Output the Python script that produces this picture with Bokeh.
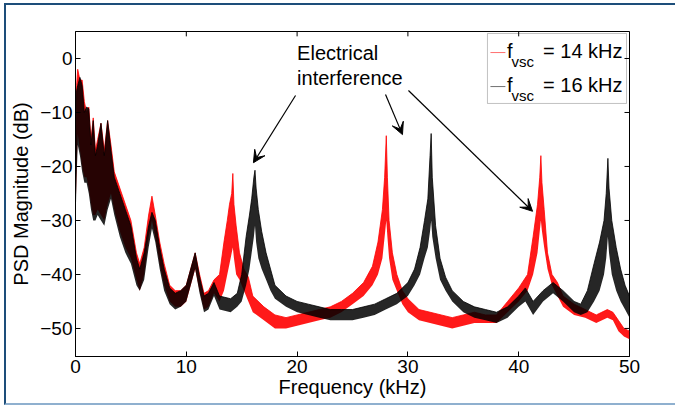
from bokeh.plotting import figure
from bokeh.models import (FixedTicker, Range1d, Label, Arrow, VeeHead, BoxAnnotation)
from bokeh.embed import file_html
from bokeh.resources import INLINE

# ---- data (noise band: lower / upper envelope, dB) ----
red_f = [0.0, 0.1, 0.2, 0.4, 0.6, 0.8, 1.0, 1.2, 1.4, 1.6, 1.8, 2.0, 2.3, 2.6,
         2.9, 3.2, 3.5, 4.0, 4.5, 5.0, 5.5, 5.8, 6.2, 6.6, 6.9, 7.2, 7.6, 8.0,
         8.5, 9.0, 9.5, 10.0, 10.4, 10.8, 11.2, 11.6, 12.0, 12.5, 13.0, 13.4,
         13.7, 13.9, 14.1, 14.2, 14.3, 14.5, 14.8, 15.2, 15.6, 16.0, 17, 18,
         19, 20, 21, 22, 23, 24, 25, 26, 26.8, 27.3, 27.7, 27.9, 28.05, 28.15,
         28.3, 28.6, 29.0, 29.5, 30, 31, 32, 33, 34, 35, 36, 37, 38, 39, 40,
         40.8, 41.3, 41.7, 41.9, 42.0, 42.1, 42.3, 42.6, 43, 43.5, 44, 45, 46,
         47, 48, 48.5, 49, 49.5, 50]
red_lo = [-30, -20, -14, -17, -20, -22, -22, -24, -27, -29, -29, -28, -29, -30,
          -27, -25, -28, -32, -35, -37, -41, -43, -40, -33, -30, -33, -38, -42,
          -45, -46, -46, -45, -42, -39, -43, -46.5, -46, -43.5, -45, -43,
          -40, -38, -36, -35, -37, -40, -41, -43, -45, -47, -48.5, -50,
          -50, -49.5, -49, -48.5, -48, -47, -45.5, -44, -42, -40, -37, -33, -30, -33,
          -37, -41, -43, -45.5, -47, -48.5, -49, -49.5, -50, -49.5, -49, -49, -49, -47, -45,
          -43, -40, -36, -32, -30, -32, -35, -39, -42, -44, -46, -47.5, -48,
          -49, -48, -48.5, -50.5, -51.5, -52]
red_hi = [-22, -5, -2, -4, -4, -8, -10, -9, -15, -11, -17, -15, -12, -17,
          -11.5, -16, -21, -24, -27, -30, -36, -38, -35, -29, -25.5, -29, -34, -38,
          -42, -43, -43, -42, -39, -36, -40, -43.5, -43, -41, -40, -34,
          -30, -27, -25, -21.3, -27, -31, -36, -39, -40.5, -44, -46, -47.5,
          -48, -47.5, -47, -46.5, -46, -45, -43.5, -41.5, -38.5, -34, -28, -22, -14.3, -22,
          -30, -36, -40, -43, -44.5, -46.5, -47, -47.5, -48, -47.5, -47, -47.5, -47.5, -45, -42.5,
          -40, -33, -27, -22, -18, -23, -28, -36, -40, -41.5, -44, -45.5, -46.5,
          -47.5, -46.5, -47, -48.5, -50, -50.5]

blk_f = [0.0, 0.1, 0.2, 0.4, 0.6, 0.8, 1.0, 1.2, 1.4, 1.6, 1.8, 2.0, 2.3, 2.6,
         2.9, 3.2, 3.5, 4.0, 4.5, 5.0, 5.5, 5.8, 6.2, 6.6, 6.9, 7.2, 7.6, 8.0,
         8.5, 9.0, 9.5, 10.0, 10.4, 10.8, 11.2, 11.6, 12.0, 12.5, 13.0, 14.0,
         14.6, 15.0, 15.4, 15.7, 15.9, 16.1, 16.2, 16.3, 16.5, 16.8, 17.2, 17.6,
         18, 19, 20, 21, 22, 23, 24, 25, 26, 27, 28, 29, 30, 30.6, 31.1, 31.5,
         31.8, 32.0, 32.1, 32.2, 32.5, 32.9, 33.4, 34, 35, 36, 37, 38, 39, 40,
         40.6, 41.3, 42.2, 43.1, 44, 45, 45.6, 46.2, 46.8, 47.3, 47.7, 47.9,
         48.05, 48.15, 48.4, 48.8, 49.2, 49.6, 50]
blk_lo = [-31, -22, -16, -18, -21, -23, -23, -25, -28, -30, -30, -29, -30, -31,
          -28, -26, -29, -33, -36, -38, -42, -43, -41, -35, -31.5, -34, -39, -43,
          -45.5, -46.5, -46, -45, -42, -39, -43.5, -47, -46.5, -44, -46.5, -47,
          -46, -45, -42, -39, -36, -33, -31, -34, -37, -39, -41, -43,
          -44.5, -46, -47, -47.5, -48, -48.5, -48.5, -48.5, -48, -47.5, -46.5, -45.5, -44, -42, -40, -37,
          -35, -32, -30, -33, -37, -41, -43, -45, -47, -48, -48.5, -49, -48, -46,
          -45, -47.5, -45, -43.5, -45, -47, -47.5, -47, -45, -43, -40, -37,
          -33, -36, -40, -43, -45, -46.5, -48]
blk_hi = [-25, -6, -5, -3.5, -5, -10, -9, -9.3, -16, -11.5, -18, -16, -12, -18,
          -11.5, -17, -22, -25, -28, -31, -37, -39, -36, -31, -28.5, -30, -35, -39,
          -42.5, -43.5, -43, -42, -39, -36, -40.5, -44, -43.5, -41.5, -44, -44.5,
          -43.5, -40, -33, -29, -26, -22, -20.7, -24, -28, -32, -36, -39,
          -42, -44, -45, -45.5, -46, -46.5, -46.5, -46.5, -46, -45.5, -44.5, -43.5, -41.5, -39, -35, -30,
          -26, -18, -13.9, -22, -31, -37, -40.5, -43, -45, -46, -46.5, -47, -46, -44,
          -42.5, -45, -43, -41.5, -43, -45, -45.5, -43, -38, -34, -30, -25,
          -18.5, -24, -30, -35, -39, -42, -44]

x_ticks = [0, 10, 20, 30, 40, 50]
y_ticks = [0, -10, -20, -30, -40, -50]
series_labels = ["= 14 kHz", "= 16 kHz"]
note_lines = ["Electrical", "interference"]

FONT = "Liberation Sans"
X0, X1, Y0, Y1 = 0, 50, -55.2, 5

p = figure(width=671, height=402, x_range=Range1d(X0, X1), y_range=Range1d(Y0, Y1),
           output_backend="svg", toolbar_location=None,
           min_border_left=69, min_border_right=48, min_border_top=26, min_border_bottom=51)
p.styles = {"margin-left": "4px", "margin-top": "3px",
            "border-top": "2px solid #1d4e7a", "border-left": "2px solid #1d4e7a",
            "border-bottom": "2px solid #8fb0cf"}

p.varea(x=red_f, y1=red_lo, y2=red_hi, fill_color="#ff0000", fill_alpha=0.9)
p.line(x=red_f, y=red_hi, line_color="#ff0000", line_width=0.8)
p.varea(x=blk_f, y1=blk_lo, y2=blk_hi, fill_color="#000000", fill_alpha=0.85)
p.line(x=blk_f, y=blk_hi, line_color="#000000", line_width=0.8)

p.grid.visible = False
p.outline_line_color = "black"
p.background_fill_color = "white"
p.border_fill_color = "white"

for ax in (p.xaxis[0], p.yaxis[0]):
    ax.major_tick_in = 5
    ax.major_tick_out = 0
    ax.minor_tick_line_color = None
    ax.major_label_text_font = FONT
    ax.major_label_text_font_size = "19px"
    ax.major_label_text_color = "black"
    ax.axis_label_text_font = FONT
    ax.axis_label_text_font_size = "20px"
    ax.axis_label_text_font_style = "normal"
    ax.axis_label_text_color = "black"
    ax.axis_line_color = "black"
    ax.major_tick_line_color = "black"

p.xaxis[0].ticker = FixedTicker(ticks=x_ticks)
p.yaxis[0].ticker = FixedTicker(ticks=y_ticks)
p.xaxis[0].axis_label = "Frequency (kHz)"
p.yaxis[0].axis_label = "PSD Magnitude (dB)"
p.xaxis[0].major_label_standoff = 3
p.xaxis[0].axis_label_standoff = 0
p.yaxis[0].major_label_standoff = 3
p.yaxis[0].axis_label_standoff = 5

# inward tick marks on the top and right frame edges (same tick positions)
p.segment(x0=x_ticks, y0=[Y1] * len(x_ticks), x1=x_ticks,
          y1=[Y1 - 0.9] * len(x_ticks), line_color="black", line_width=1)
p.segment(x0=[X1] * len(y_ticks), y0=y_ticks, x1=[X1 - 0.45] * len(y_ticks),
          y1=y_ticks, line_color="black", line_width=1)

# annotation text and arrows
p.add_layout(Label(x=20.0, y=3.0, text=note_lines[0], text_font=FONT,
                   text_font_size="20px", text_baseline="top", text_color="black"))
p.add_layout(Label(x=20.0, y=-1.55, text=note_lines[1], text_font=FONT,
                   text_font_size="20px", text_baseline="top", text_color="black"))
for (xa, ya, xb, yb) in ((19.86, -6.85, 16.06, -19.3),
                         (27.98, -6.67, 29.51, -14.1),
                         (30.05, -5.93, 41.25, -28.3)):
    p.add_layout(Arrow(x_start=xa, y_start=ya, x_end=xb, y_end=yb, line_width=1.2,
                       line_color="black",
                       end=VeeHead(size=12, fill_color="black", line_color="black")))

# legend (drawn by hand so the subscript can be shown)
p.add_layout(BoxAnnotation(left=37.18, right=49.73, top=4.63, bottom=-8.33,
                           fill_color="white", fill_alpha=1.0, line_color="#333333",
                           line_width=1, level="underlay"))
for i, (col, lab) in enumerate(zip(["#ff7070", "#707070"], series_labels)):
    top = 3.4 - i * 6.3
    p.line(x=[37.45, 38.8], y=[top - 2.3, top - 2.3], line_color=col, line_width=1)
    p.add_layout(Label(x=38.95, y=top, text="f", text_font=FONT, text_font_size="20px",
                       text_baseline="top", text_color="black"))
    p.add_layout(Label(x=39.35, y=top - 2.35, text="vsc", text_font=FONT,
                       text_font_size="15px", text_baseline="top",
                       text_color="black"))
    p.add_layout(Label(x=42.2, y=top, text=lab, text_font=FONT, text_font_size="20px",
                       text_baseline="top", text_color="black"))

open("out.html", "w").write(file_html(p, INLINE))
